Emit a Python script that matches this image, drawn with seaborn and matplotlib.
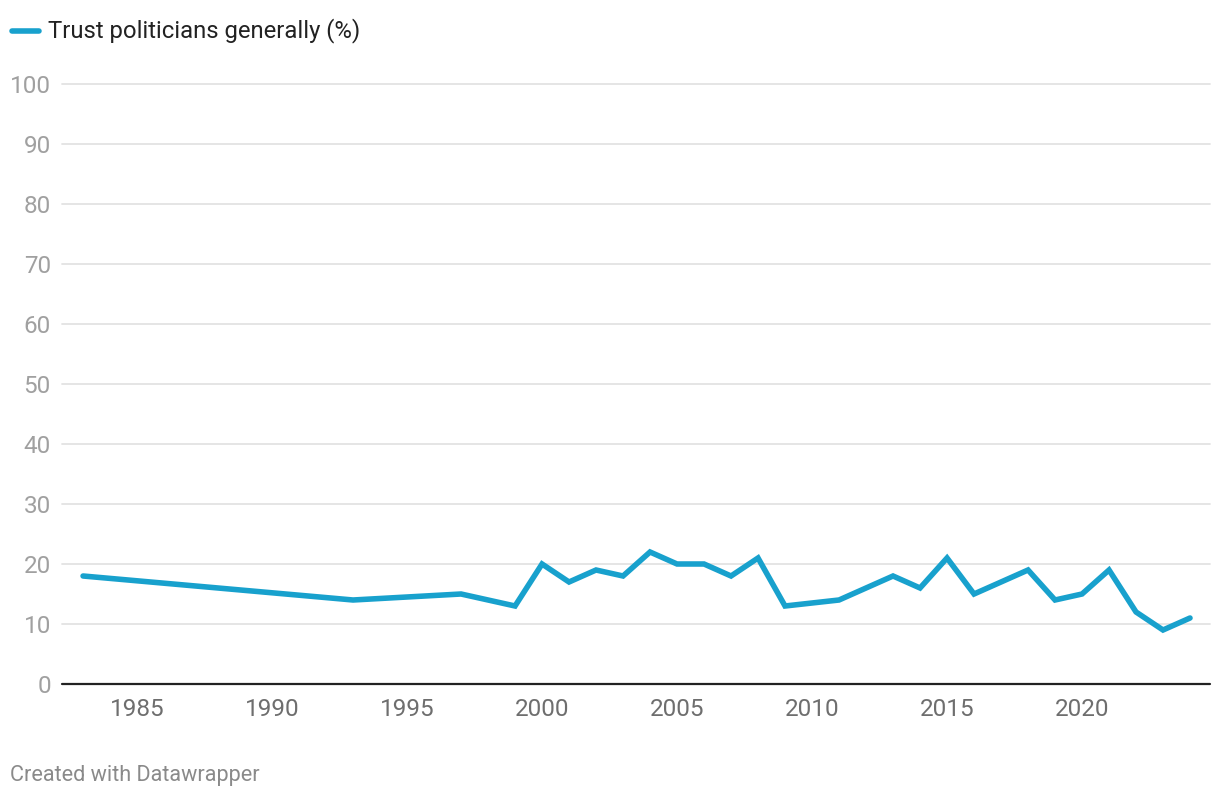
import pandas as pd
import seaborn as sns
import matplotlib.pyplot as plt

# Trust in politicians
years = [1983, 1993, 1997, 1999, 2000, 2001, 2002, 2003, 2004, 2005, 2006, 2007,
         2008, 2009, 2011, 2013, 2014, 2015, 2016, 2018, 2019, 2020, 2021, 2022,
         2023, 2024]
trust = [18, 14, 15, 13, 20, 17, 19, 18, 22, 20, 20, 18,
         21, 13, 14, 18, 16, 21, 15, 19, 14, 15, 19, 12,
         9, 11]
series_label = 'Trust politicians generally (%)'
x_ticks = [1985, 1990, 1995, 2000, 2005, 2010, 2015, 2020]
y_ticks = [0, 10, 20, 30, 40, 50, 60, 70, 80, 90, 100]

df = pd.DataFrame({'year': years, 'value': trust, 'series': series_label})

sns.set_style('white')
plt.rcParams['font.family'] = ['Roboto', 'DejaVu Sans']

fig = plt.figure(figsize=(12.2, 8), dpi=100)
ax = fig.add_axes([62 / 1220, 1 - 684 / 800, (1210 - 62) / 1220, 600 / 800])

sns.lineplot(data=df, x='year', y='value', hue='series', palette=['#18a1cd'],
             linewidth=4, ax=ax, legend=False,
             solid_capstyle='round', solid_joinstyle='miter')

ax.set_xlim(1982.22, 2024.74)
ax.set_ylim(0, 100)
ax.set_xticks(x_ticks)
ax.set_yticks(y_ticks)
ax.set_xlabel('')
ax.set_ylabel('')

for y in y_ticks[1:]:
    ax.axhline(y, color='#e3e3e3', linewidth=1.3, zorder=0, clip_on=False)
ax.axhline(0, color='#222222', linewidth=1.6, zorder=3, clip_on=False)

for s in ax.spines.values():
    s.set_visible(False)

ax.tick_params(axis='y', length=0, pad=8, labelsize=17.5, labelcolor='#a0a0a0')
ax.tick_params(axis='x', length=0, pad=10, labelsize=17.5, labelcolor='#6e6e6e')

# legend swatch and label at top left
fig.lines.append(plt.Line2D([12 / 1220, 39 / 1220], [1 - 31 / 800, 1 - 31 / 800],
                            transform=fig.transFigure, color='#18a1cd',
                            linewidth=4, solid_capstyle='round'))
fig.text(48 / 1220, 1 - 31 / 800, series_label, fontsize=17.2, color='#222222',
         ha='left', va='center')

fig.text(10 / 1220, 1 - 776 / 800, 'Created with Datawrapper', fontsize=15.6,
         color='#8a8a8a', ha='left', va='center')

fig.savefig('out.png', dpi=100)
